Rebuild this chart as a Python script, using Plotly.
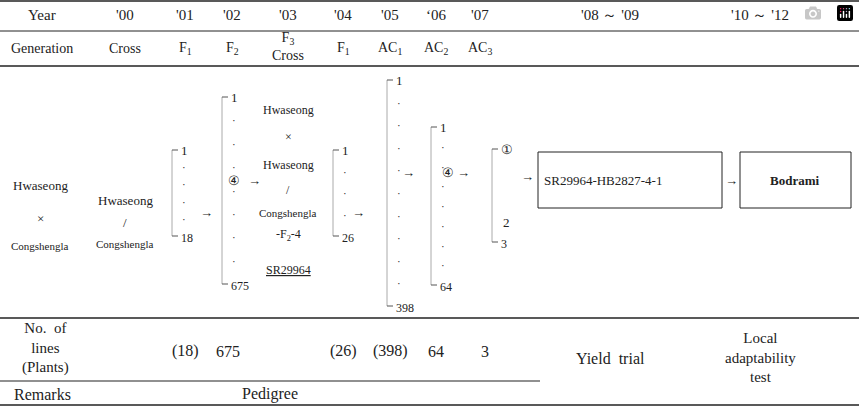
import plotly.graph_objects as go

years = ["Year", "'00", "'01", "'02", "'03", "'04", "'05", "‘06", "'07", "'08 ～ '09", "'10 ～ '12"]
year_x = [42, 125, 185, 232, 288, 343, 390, 436, 480, 610, 760]
generations = ["Generation", "Cross", "F<sub>1</sub>", "F<sub>2</sub>", "F<sub>3</sub><br>Cross",
               "F<sub>1</sub>", "AC<sub>1</sub>", "AC<sub>2</sub>", "AC<sub>3</sub>", "", ""]
line_counts = ["(18)", "675", "", "(26)", "(398)", "64", "3"]
count_x = [185, 228, 288, 343, 390, 436, 485]

# brackets: x, top y, bottom y, top label, bottom label, number of dots
brackets = [
    (172, 150, 236, "1", "18", 4),
    (222, 97, 284, "1", "675", 7),
    (333, 150, 236, "1", "26", 3),
    (387, 80, 306, "1", "398", 9),
    (431, 127, 285, "1", "64", 7),
    (492, 149, 242, "①", "3", 0),
]

FAMILY = "Liberation Serif, DejaVu Serif, Times New Roman, serif"
ann = []
shapes = []

def txt(x, y, s, size=14, **kw):
    ann.append(dict(x=x, y=y, text=s, showarrow=False, xref="x", yref="y",
                    font=dict(family=FAMILY, size=size, color="#222"), **kw))

def hline(y, x0=0, x1=859, w=1.5):
    shapes.append(dict(type="line", x0=x0, x1=x1, y0=y, y1=y, xref="x", yref="y",
                       line=dict(color="#222", width=w)))

for x, s in zip(year_x, years):
    txt(x, 15, s, 15)
for x, s in zip(year_x, generations):
    if s:
        txt(x, 48 if "Cross" not in s or x < 200 else 46, s, size=14)

hline(1); hline(31, w=1); hline(66); hline(318); hline(381, 0, 540, 1.2); hline(405)

# crosses in text
txt(40, 185, "Hwaseong", 13); txt(40, 218, "×", 13); txt(40, 246, "Congshengla", 11)
txt(125, 200, "Hwaseong", 13); txt(125, 222, "/", 13); txt(125, 244, "Congshengla", 11)
for y, s in zip([110, 137, 165, 190, 213, 235], ["Hwaseong", "×", "Hwaseong", "/", "Congshengla", "-F<sub>2</sub>-4"]):
    txt(288, y, s, 12 if s != "Congshengla" else 11)
txt(288, 270, "<u>SR29964</u>", 12)

for x, y0, y1, top, bot, nd in brackets:
    shapes.append(dict(type="line", x0=x, x1=x, y0=y0, y1=y1, xref="x", yref="y",
                       line=dict(color="#aaa", width=1)))
    shapes.append(dict(type="line", x0=x, x1=x + 6, y0=y0, y1=y0, xref="x", yref="y",
                       line=dict(color="#555", width=1)))
    shapes.append(dict(type="line", x0=x, x1=x + 6, y0=y1, y1=y1, xref="x", yref="y",
                       line=dict(color="#555", width=1)))
    txt(x + 7, y0, top, 13, xanchor="left")
    txt(x + 7, y1 + 2, bot, 12, xanchor="left")
    for i in range(nd):
        txt(x + 8, y0 + (y1 - y0) * (i + 1) / (nd + 1), "·", 11, xanchor="left")

txt(501, 222, "2", 13, xanchor="left")
txt(226, 180, "④", 13, xanchor="left")
txt(246, 180, "→", 13, xanchor="left")
txt(198, 212, "→", 13, xanchor="left")
txt(350, 212, "→", 13, xanchor="left")
txt(400, 172, "→", 13, xanchor="left")
txt(440, 172, "④", 13, xanchor="left")
txt(455, 172, "→", 13, xanchor="left")
txt(519, 176, "→", 13, xanchor="left")
txt(731, 180, "→", 13)

shapes.append(dict(type="rect", x0=538, x1=722, y0=152, y1=208, xref="x", yref="y",
                   line=dict(color="#222", width=1)))
shapes.append(dict(type="rect", x0=740, x1=851, y0=152, y1=208, xref="x", yref="y",
                   line=dict(color="#222", width=1)))
txt(542, 180, "SR29964-HB2827-4-1", 13, xanchor="left")
txt(795, 180, "<b>Bodrami</b>", 13)

txt(45, 348, "No.  of<br>lines<br>(Plants)", 15)
for x, s in zip(count_x, line_counts):
    if s:
        txt(x, 351, s, 16)
txt(610, 358, "Yield  trial", 16)
txt(760, 357, "Local<br>adaptability<br>test", 15)
txt(42, 394, "Remarks", 16)
txt(270, 394, "Pedigree", 16)

fig = go.Figure()
fig.update_layout(width=859, height=407, margin=dict(l=0, r=0, t=0, b=0),
                  plot_bgcolor="white", paper_bgcolor="white",
                  xaxis=dict(range=[0, 859], visible=False, fixedrange=True),
                  yaxis=dict(range=[407, 0], visible=False, fixedrange=True),
                  annotations=ann, shapes=shapes, showlegend=False)
fig.write_html("out.html", post_script="document.body.style.margin='0';")
